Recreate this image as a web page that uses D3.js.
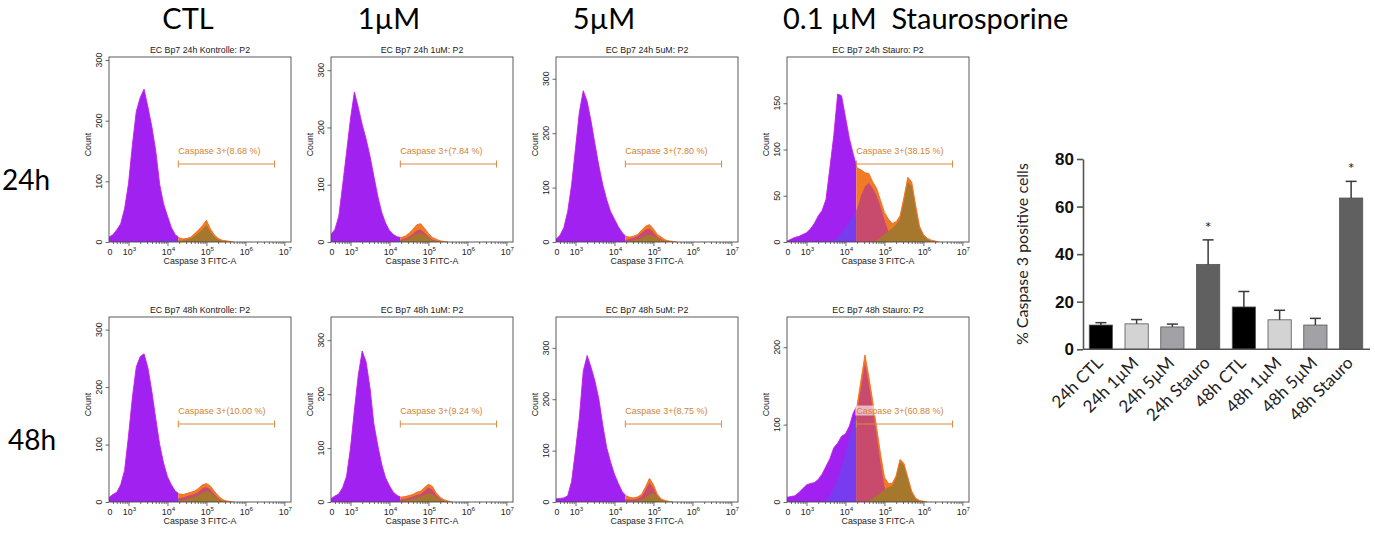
<!DOCTYPE html>
<html>
<head>
<meta charset="utf-8">
<script src="https://cdn.jsdelivr.net/npm/d3@7"></script>
<style>
  body { margin: 0; background: #fff; }
  svg { display: block; }
</style>
</head>
<body>
<svg id="fig" width="1375" height="535"></svg>
<script>
// ---------------------------------------------------------------------------
// Flow cytometry histograms: counts per 0.1-decade bin of Caspase 3 FITC-A,
// first bin at 10^2.5. "total" = all P2 events, "early" / "late" = the two
// sub-populations that are overlaid in colour.
// ---------------------------------------------------------------------------
const binStartLog = 2.5;
const binStepLog = 0.1;

const total24hCTL   = [8,12,20,30,55,96,160,215,238,252,222,190,150,95,63,43,24,12,7,5,6,8,14,20,27,36,22,12,6,3,2,1,0];
const early24hCTL   = [0,0,0,0,0,0,0,0,0,0,0,0,0,1,2,3,3,2,2,1,0];
const late24hCTL    = [0,0,0,0,0,0,0,0,0,0,0,0,0,0,0,0,0,0,2,3,4,6,10,15,21,28,17,9,4,2,1,0];

const total24h1uM   = [13,22,45,100,157,215,262,235,205,180,150,115,80,52,33,20,13,9,8,10,15,22,30,32,24,15,8,5,2,1,0];
const early24h1uM   = [0,0,0,0,0,0,0,0,0,0,0,0,0,0,0,0,0,3,4,6,9,14,20,22,16,9,4,2,0];
const late24h1uM    = [0,0,0,0,0,0,0,0,0,0,0,0,0,0,0,0,0,0,2,4,6,10,14,16,12,7,3,1,0];

const total24h5uM   = [5,12,26,56,105,172,239,278,258,222,180,140,105,78,56,42,28,17,10,9,11,14,22,29,32,24,14,9,4,2,1,0];
const early24h5uM   = [0,0,0,0,0,0,0,0,0,0,0,0,0,0,0,0,0,2,4,6,8,11,17,23,25,18,9,5,2,0];
const late24h5uM    = [0,0,0,0,0,0,0,0,0,0,0,0,0,0,0,0,0,0,0,2,3,5,8,11,13,11,7,4,2,1,0];

const total24hStauro = [1,3,5,6,8,10,14,20,28,34,46,80,115,160,158,135,112,95,80,78,75,74,65,58,45,32,25,20,22,28,48,70,65,40,17,8,4,2,1,0];
const early24hStauro = [0,0,0,0,0,0,0,0,0,0,0,0,2,5,10,16,22,28,36,50,60,64,58,50,38,24,12,5,2,0];
const late24hStauro  = [0,0,0,0,0,0,0,0,0,0,0,0,0,0,0,0,0,0,0,0,0,0,0,2,5,8,12,15,19,25,44,65,60,36,15,7,3,1,0];

const total48hCTL   = [8,13,17,30,55,115,182,235,253,258,233,192,145,100,68,44,30,19,14,13,15,17,19,24,30,32,28,19,11,5,2,1,0];
const early48hCTL   = [0,0,0,0,0,0,0,0,0,0,0,0,0,0,0,0,0,4,7,8,10,12,14,18,24,26,22,14,7,2,0];
const late48hCTL    = [0,0,0,0,0,0,0,0,0,0,0,0,0,0,0,0,0,0,2,3,5,7,9,12,16,19,17,11,6,2,0];

const total48h1uM   = [6,11,15,27,48,100,170,235,280,260,212,145,105,70,45,30,18,12,9,10,12,14,18,20,27,33,29,17,9,4,2,0];
const early48h1uM   = [0,0,0,0,0,0,0,0,0,0,0,0,0,0,0,0,0,0,5,6,8,10,13,15,21,27,23,13,6,2,0];
const late48h1uM    = [0,0,0,0,0,0,0,0,0,0,0,0,0,0,0,0,0,0,2,3,4,6,8,10,13,16,14,9,5,2,0];

const total48h5uM   = [6,7,8,12,40,100,165,255,285,262,235,200,150,106,78,54,36,20,12,9,8,10,15,30,46,34,15,6,3,1,0];
const early48h5uM   = [0,0,0,0,0,0,0,0,0,0,0,0,0,0,0,0,0,0,6,5,5,7,11,24,38,27,11,4,1,0];
const late48h5uM    = [0,0,0,0,0,0,0,0,0,0,0,0,0,0,0,0,0,0,0,1,2,3,5,9,15,18,10,4,2,0];

const total48hStauro = [6,7,8,12,17,22,24,25,29,36,46,56,70,76,85,88,98,115,125,158,190,162,130,96,62,32,24,24,34,55,50,32,14,5,2,1,0];
const early48hStauro = [0,0,0,0,0,0,0,0,0,0,2,8,18,30,45,62,82,105,118,148,180,152,120,86,50,20,8,3,1,0];
const late48hStauro  = [0,0,0,0,0,0,0,0,0,0,0,0,0,0,0,0,0,0,0,0,0,2,5,8,12,16,19,21,31,52,47,29,12,4,1,0];

const panelTitles = [
  "EC Bp7 24h Kontrolle: P2", "EC Bp7 24h 1uM: P2", "EC Bp7 24h 5uM: P2", "EC Bp7 24h Stauro: P2",
  "EC Bp7 48h Kontrolle: P2", "EC Bp7 48h 1uM: P2", "EC Bp7 48h 5uM: P2", "EC Bp7 48h Stauro: P2"
];
const gatePercents = ["8.68", "7.84", "7.80", "38.15", "10.00", "9.24", "8.75", "60.88"];
const countAxisMax = [305, 323, 340, 200, 322, 343, 360, 239];
const countTickStep = [100, 100, 100, 50, 100, 100, 100, 100];
const countMinorStep = [20, 20, 20, 10, 20, 20, 20, 20];
const gateRange = [19000, 5600000];        // Caspase 3+ marker, FITC-A
const fitcRange = [Math.pow(10, 2.5), Math.pow(10, 7.17)];

const columnHeaders = ["CTL", "1µM", "5µM", "0.1 µM  Staurosporine"];
const rowHeaders = ["24h", "48h"];

// Summary bar chart: % Caspase 3 positive cells (mean + SD)
const barLabels = ["24h CTL", "24h 1µM", "24h 5µM", "24h Stauro", "48h CTL", "48h 1µM", "48h 5µM", "48h Stauro"];
const barMeans  = [10.2, 10.7, 9.4, 35.7, 17.8, 12.4, 10.2, 63.6];
const barErrors = [1.0, 1.8, 1.2, 10.3, 6.5, 4.0, 2.8, 7.0];
const barSignificant = [false, false, false, true, false, false, false, true];
const barTicks = [0, 20, 40, 60, 80];

// ---------------------------------------------------------------------------
const panels = [
  { total: total24hCTL, early: early24hCTL, late: late24hCTL },
  { total: total24h1uM, early: early24h1uM, late: late24h1uM },
  { total: total24h5uM, early: early24h5uM, late: late24h5uM },
  { total: total24hStauro, early: early24hStauro, late: late24hStauro },
  { total: total48hCTL, early: early48hCTL, late: late48hCTL },
  { total: total48h1uM, early: early48h1uM, late: late48h1uM },
  { total: total48h5uM, early: early48h5uM, late: late48h5uM },
  { total: total48hStauro, early: early48hStauro, late: late48hStauro }
].map((p, i) => Object.assign(p, {
  title: panelTitles[i], pct: gatePercents[i], yMax: countAxisMax[i],
  step: countTickStep[i], minor: countMinorStep[i]
}));

const svg = d3.select("#fig");
const SMALL_FONT = "'Liberation Sans', Arial, sans-serif";
const SMALL_SIZE = 8.8;
const HEAD_FONT = "Lato, 'Open Sans', sans-serif";

const COL_LEFTS = [109, 331, 556, 787];
const ROW_TOPS = [57, 317];
const PW = 182, PH = 185;

const layerColors = [
  { key: "total", L: "#a021f0", R: "#f07a26" },
  { key: "early", L: "#783cf0", R: "#c84b6e" },
  { key: "late",  L: "#6d5a92", R: "#a5782d" }
];

function drawPanel(g, p, idx) {
  const x = d3.scaleLog().domain(fitcRange).range([0, PW]);
  const y = d3.scaleLinear().domain([0, p.yMax]).range([PH, 0]);
  const gx = x(gateRange[0]);
  const id = "hp" + idx;

  const defs = g.append("defs");
  defs.append("clipPath").attr("id", id + "L").append("rect")
    .attr("x", 0).attr("y", 0).attr("width", gx).attr("height", PH);
  defs.append("clipPath").attr("id", id + "R").append("rect")
    .attr("x", gx).attr("y", 0).attr("width", PW - gx).attr("height", PH);

  const toPts = arr => arr.map((c, k) => ({ v: Math.pow(10, binStartLog + k * binStepLog), c }));
  const area = d3.area().x(d => x(d.v)).y0(PH).y1(d => y(d.c));
  const line = d3.line().x(d => x(d.v)).y(d => y(d.c));

  layerColors.forEach(l => {
    ["L", "R"].forEach(side => {
      g.append("path")
        .attr("clip-path", `url(#${id}${side})`)
        .attr("d", area(toPts(p[l.key])))
        .attr("fill", l[side]);
    });
  });
  // histogram edge
  g.append("path").attr("clip-path", `url(#${id}L)`)
    .attr("d", line(toPts(p.total))).attr("fill", "none")
    .attr("stroke", "#c71fe2").attr("stroke-width", 0.9);
  g.append("path").attr("clip-path", `url(#${id}R)`)
    .attr("d", line(toPts(p.total))).attr("fill", "none")
    .attr("stroke", "#f26b1c").attr("stroke-width", 0.9);

  // frame
  g.append("rect").attr("x", 0).attr("y", 0).attr("width", PW).attr("height", PH)
    .attr("fill", "none").attr("stroke", "#4a4a4a").attr("stroke-width", 0.9);

  // title
  g.append("text").attr("x", PW / 2).attr("y", -4).attr("text-anchor", "middle")
    .attr("font-family", SMALL_FONT).attr("font-size", SMALL_SIZE).attr("fill", "#222").text(p.title);

  // x axis ticks (log decades with minor ticks)
  const majors = [1e3, 1e4, 1e5, 1e6, 1e7];
  const minors = [];
  for (let e = 2; e <= 6; e++) for (let m = 2; m <= 9; m++) {
    const v = m * Math.pow(10, e);
    if (v >= fitcRange[0] && v <= fitcRange[1]) minors.push(v);
  }
  const xa = g.append("g").attr("transform", `translate(0,${PH})`);
  xa.call(d3.axisBottom(x).tickValues(minors).tickSize(2).tickFormat(""));
  xa.call(g2 => g2.select(".domain").remove());
  const xb = g.append("g").attr("transform", `translate(0,${PH})`);
  xb.call(d3.axisBottom(x).tickValues(majors).tickSize(4).tickFormat(""));
  xb.call(g2 => g2.select(".domain").remove());
  g.selectAll(".tick line").attr("stroke", "#444").attr("stroke-width", 0.8);

  const xl = g.append("g").attr("font-family", SMALL_FONT).attr("font-size", SMALL_SIZE).attr("fill", "#222");
  xl.append("text").attr("x", x(fitcRange[0]) + 1).attr("y", PH + 12.5).attr("text-anchor", "middle").text("0");
  majors.forEach(v => {
    const t = xl.append("text").attr("x", x(v) + 1).attr("y", PH + 12.5).attr("text-anchor", "middle");
    t.append("tspan").text("10");
    t.append("tspan").attr("font-size", 6.2).attr("dy", -3.8).text(Math.round(Math.log10(v)));
  });
  g.append("text").attr("x", PW / 2).attr("y", PH + 21.5).attr("text-anchor", "middle")
    .attr("font-family", SMALL_FONT).attr("font-size", SMALL_SIZE).attr("fill", "#222").text("Caspase 3 FITC-A");

  // y axis ticks
  const yMinor = d3.range(0, p.yMax, p.minor);
  const yMajor = d3.range(0, p.yMax, p.step);
  const ya = g.append("g");
  ya.call(d3.axisLeft(y).tickValues(yMinor).tickSize(2).tickFormat(""));
  ya.call(d3.axisLeft(y).tickValues(yMajor).tickSize(3.5).tickFormat(""));
  ya.selectAll(".domain").remove();
  ya.selectAll(".tick line").attr("stroke", "#444").attr("stroke-width", 0.8);
  yMajor.forEach(v => {
    g.append("text").attr("transform", `translate(-7,${y(v)}) rotate(-90)`)
      .attr("text-anchor", "middle").attr("font-family", SMALL_FONT).attr("font-size", SMALL_SIZE)
      .attr("fill", "#222").text(v);
  });
  g.append("text").attr("transform", `translate(-18,${PH / 2 - 5}) rotate(-90)`)
    .attr("text-anchor", "middle").attr("font-family", SMALL_FONT).attr("font-size", SMALL_SIZE)
    .attr("fill", "#222").text("Count");

  // Caspase 3+ marker
  const gy = PH - 78;
  const gx2 = x(gateRange[1]);
  const gateColor = "#d98a45";
  const lbl = g.append("text").attr("x", gx).attr("y", gy - 10.5)
    .attr("font-family", SMALL_FONT).attr("font-size", 9).attr("fill", "#d08436")
    .text(`Caspase 3+(${p.pct} %)`);
  const bb = lbl.node().getBBox();
  g.insert("rect", () => lbl.node())
    .attr("x", bb.x - 1).attr("y", bb.y).attr("width", bb.width + 2).attr("height", bb.height)
    .attr("fill", "#fff").attr("fill-opacity", 0.6);
  g.append("line").attr("x1", gx).attr("x2", gx2).attr("y1", gy).attr("y2", gy)
    .attr("stroke", gateColor).attr("stroke-width", 1);
  [gx, gx2].forEach(cx => g.append("line").attr("x1", cx).attr("x2", cx)
    .attr("y1", gy - 3.5).attr("y2", gy + 3.5).attr("stroke", gateColor).attr("stroke-width", 1));
}

panels.forEach((p, i) => {
  const g = svg.append("g")
    .attr("transform", `translate(${COL_LEFTS[i % 4]},${ROW_TOPS[Math.floor(i / 4)]})`);
  drawPanel(g, p, i);
});

// column and row headers
const headerX = [188, 389, 604, 783];
const headerAnchor = ["middle", "middle", "middle", "start"];
columnHeaders.forEach((t, i) => {
  svg.append("text").attr("x", headerX[i]).attr("y", 29).attr("text-anchor", headerAnchor[i])
    .attr("font-family", HEAD_FONT).attr("font-size", 29).attr("fill", "#000")
    .attr("xml:space", "preserve").style("white-space", "pre").text(t);
});
const rowY = [190, 450];
const rowX = [2, 8];
rowHeaders.forEach((t, i) => {
  svg.append("text").attr("x", rowX[i]).attr("y", rowY[i])
    .attr("font-family", HEAD_FONT).attr("font-size", 28).attr("fill", "#000").text(t);
});

// ---------------------------------------------------------------------------
// Summary bar chart
// ---------------------------------------------------------------------------
const treatmentFill = { "CTL": "#000000", "1µM": "#d3d3d3", "5µM": "#a2a2a6", "Stauro": "#606060" };
const bc = svg.append("g");
const bx = d3.scaleBand().domain(barLabels).range([1083, 1369]).paddingInner(0.35).paddingOuter(0.175);
const by = d3.scaleLinear().domain([0, 80]).range([349.3, 159]);

bc.selectAll("rect.bar").data(barLabels).join("rect")
  .attr("class", "bar")
  .attr("x", d => bx(d)).attr("width", bx.bandwidth())
  .attr("y", (d, i) => by(barMeans[i]))
  .attr("height", (d, i) => by(0) - by(barMeans[i]))
  .attr("fill", d => treatmentFill[d.split(" ")[1]])
  .attr("stroke", "#555").attr("stroke-width", 0.8);

barLabels.forEach((d, i) => {
  const cx = bx(d) + bx.bandwidth() / 2;
  const yTop = by(barMeans[i] + barErrors[i]);
  bc.append("line").attr("x1", cx).attr("x2", cx).attr("y1", by(barMeans[i])).attr("y2", yTop)
    .attr("stroke", "#3a3a3a").attr("stroke-width", 1.5);
  bc.append("line").attr("x1", cx - 5.5).attr("x2", cx + 5.5).attr("y1", yTop).attr("y2", yTop)
    .attr("stroke", "#3a3a3a").attr("stroke-width", 1.5);
  if (barSignificant[i]) {
    bc.append("text").attr("x", cx).attr("y", yTop - 7).attr("text-anchor", "middle")
      .attr("font-family", HEAD_FONT).attr("font-size", 16).attr("fill", "#222").text("*");
  }
  bc.append("text").attr("transform", `translate(${cx + 3},${364}) rotate(-45)`)
    .attr("text-anchor", "end").attr("font-family", HEAD_FONT).attr("font-size", 17)
    .attr("fill", "#222").text(d);
});

// axes
const yAxis = bc.append("g").attr("transform", "translate(1083,0)")
  .call(d3.axisLeft(by).tickValues(barTicks).tickSize(6).tickSizeOuter(0).tickPadding(3));
yAxis.select(".domain").attr("stroke", "#555").attr("stroke-width", 1.6);
yAxis.selectAll(".tick line").attr("stroke", "#555").attr("stroke-width", 1.6);
yAxis.selectAll(".tick text").attr("font-family", "'Liberation Sans', Arial, sans-serif")
  .attr("font-weight", "bold").attr("font-size", 17).attr("fill", "#111");
bc.append("line").attr("x1", 1083).attr("x2", 1370).attr("y1", by(0)).attr("y2", by(0))
  .attr("stroke", "#555").attr("stroke-width", 1.6);

bc.append("text").attr("transform", `translate(1028,${(by(0) + by(80)) / 2}) rotate(-90)`)
  .attr("text-anchor", "middle").attr("font-family", HEAD_FONT).attr("font-size", 16)
  .attr("fill", "#222").text("% Caspase 3 positive cells");
</script>
</body>
</html>
